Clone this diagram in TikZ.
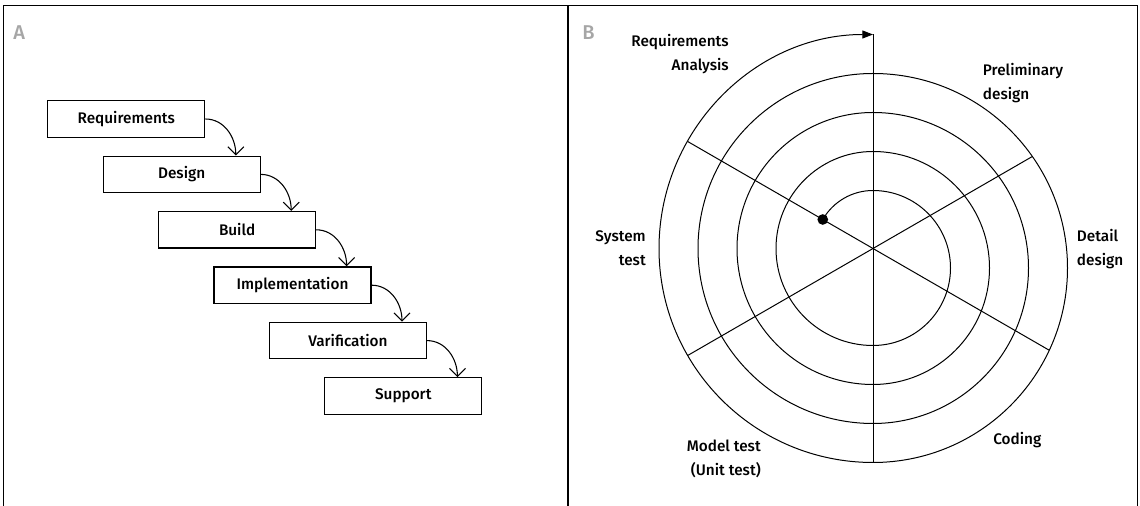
\documentclass[tikz,border=0pt]{standalone}
\usepackage{fontspec}
\setmainfont{Fira Sans}[UprightFont={* Medium}]
\usetikzlibrary{arrows.meta,calc}
\tikzset{
  stagebox/.style={draw, line width=0.9pt, minimum width=117.75pt, minimum height=27.4pt, inner sep=0pt, font=\fontsize{11.5}{14}\selectfont},
  flowarrow/.style={line width=0.8pt, -{Straight Barb[length=6pt,width=12pt]}},
  ring/.style={line width=0.75pt},
  steplabel/.style={font=\fontsize{11.5}{18}\selectfont, inner sep=0pt},
  panellabel/.style={text=black!35, font=\fontsize{15}{16}\selectfont, inner sep=0pt, anchor=west}
}
\begin{document}
\begin{tikzpicture}[x=0.75pt,y=0.75pt]
  \useasboundingbox (0,0) rectangle (1140,506);
  % frame
  \draw[line width=1pt] (3.5,0) -- (3.5,500.5) -- (1137.3,500.5) -- (1137.3,0);
  \draw[line width=1pt] (568,0) -- (568,500.5);
  \node[panellabel] (lblA) at (13,473) {A};
  \node[panellabel] (lblB) at (582,473) {B};

  % waterfall
  \foreach \i\name in {0/Requirements,1/Design,2/Build,3/Implementation,4/Varification,5/Support}{
    \node[stagebox] (s\i) at (126.3+55.4*\i, 387-55.4*\i) {\name};
  }
  \foreach \i\j in {0/1,1/2,2/3,3/4,4/5}{
    \draw[flowarrow] (s\i.east) to[out=0,in=90] ([xshift=-18.75pt]s\j.north east);
  }

  % spiral
  \coordinate (O) at (873,257.5);
  \coordinate (start) at ($(O)+(150:58)$);
  \draw[ring, -{Triangle[length=8pt,width=6pt]}] (start) arc[start angle=150, end angle=90, radius=58]
    \foreach \k in {0,...,3}{
      arc[start angle=90, end angle=-90, radius={77.5+39*\k}]
      arc[start angle=-90, end angle=-270, radius={97+39*\k}]
    };
  \coordinate (top) at ($(O)+(0,214)$);
  \coordinate (bot) at ($(O)+(0,-214)$);
  \coordinate (nw) at ($(O)+(150:214)$);
  \coordinate (se) at ($(O)+(-30:203.5)$);
  \coordinate (sw) at ($(O)+(210:214)$);
  \coordinate (ne) at ($(O)+(30:184)$);
  \draw[ring] (top) -- (bot);
  \draw[ring] (nw) -- (se);
  \draw[ring] (sw) -- (ne);
  \fill (start) circle[radius=4pt];

  % phases
  \node[steplabel, anchor=east, align=right] (req) at (729,452) {Requirements\\Analysis};
  \node[steplabel, anchor=west, align=left] (pre) at (982.7,422.5) {Preliminary\\design};
  \node[steplabel, anchor=west, align=left] (det) at (1076.7,256.5) {Detail\\design};
  \node[steplabel, anchor=west] (cod) at (993,66) {Coding};
  \node[steplabel, anchor=east, align=right] (mod) at (761,47.3) {Model test\\(Unit test)};
  \node[steplabel, anchor=east, align=right] (sys) at (646,258) {System\\test};
\end{tikzpicture}
\end{document}
